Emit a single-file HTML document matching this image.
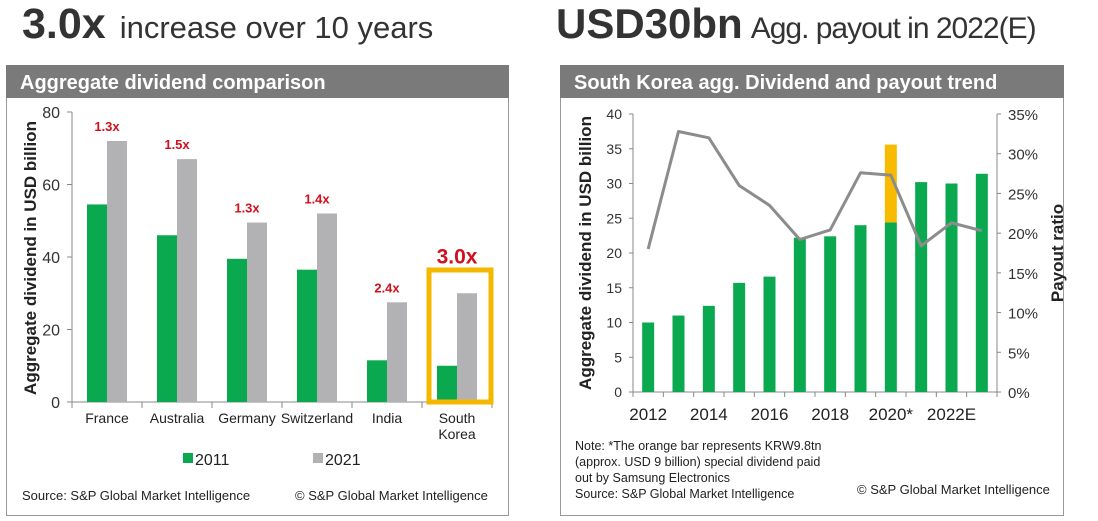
<!DOCTYPE html>
<html><head><meta charset="utf-8"><style>
body{margin:0;width:1098px;height:521px;background:#fff;font-family:"Liberation Sans",Arial,sans-serif;overflow:hidden;position:relative}
.abs{position:absolute;white-space:nowrap}
</style></head><body>
<div class="abs" style="left:22px;top:0px;color:#333;"><span style="font-size:43px;font-weight:bold">3.0x</span><span style="font-size:31px;margin-left:14px">increase over 10 years</span></div>
<div class="abs" style="left:556px;top:0px;color:#333;"><span style="font-size:42px;font-weight:bold">USD30bn</span><span style="font-size:30px;letter-spacing:-1px;margin-left:8px">Agg. payout in 2022(E)</span></div>
<svg width="1098" height="521" style="position:absolute;left:0;top:0" id="svg" font-family="Liberation Sans, Arial, sans-serif">
<rect x="6.5" y="65.5" width="502" height="450" fill="none" stroke="#999"/>
<rect x="6" y="65" width="503" height="33" fill="#7a7a7a"/>
<text x="20" y="89" fill="#fff" font-size="20" font-weight="bold">Aggregate dividend comparison</text>
<rect x="560.5" y="65.5" width="503" height="450" fill="none" stroke="#999"/>
<rect x="560" y="65" width="504" height="33" fill="#7a7a7a"/>
<text x="574" y="89" fill="#fff" font-size="20" font-weight="bold">South Korea agg. Dividend and payout trend</text>
<g id="left"></g><g id="right"></g>
<text x="22" y="500" font-size="13" fill="#222">Source: S&amp;P Global Market Intelligence</text>
<text x="295" y="500" font-size="13" fill="#222">© S&amp;P Global Market Intelligence</text>
<text font-size="12.5" fill="#222"><tspan x="575" y="450">Note: *The orange bar represents KRW9.8tn</tspan><tspan x="575" y="466">(approx. USD 9 billion) special dividend paid</tspan><tspan x="575" y="482">out by Samsung Electronics</tspan><tspan x="575" y="498">Source: S&amp;P Global Market Intelligence</tspan></text>
<text x="857" y="494" font-size="13" fill="#222">© S&amp;P Global Market Intelligence</text>
</svg>
<script>
const countries=["France","Australia","Germany","Switzerland","India","South Korea"];
const v2011=[54.5,46,39.5,36.5,11.5,10];
const v2021=[72,67,49.5,52,27.5,30];
const multLabels=["1.3x","1.5x","1.3x","1.4x","2.4x","3.0x"];
const yTicksL=[0,20,40,60,80];
const years=["2012","2013","2014","2015","2016","2017","2018","2019","2020*","2021","2022E","2023E"];
const divs=[10,11,12.4,15.7,16.6,22.2,22.4,24,24.4,30.2,30,31.4];
const special=[0,0,0,0,0,0,0,0,11.2,0,0,0];
const payout=[18,32.8,32,26,23.5,19.2,20.4,27.6,27.3,18.4,21.3,20.3];
const yTicksR=[0,5,10,15,20,25,30,35,40];
const pTicks=[0,5,10,15,20,25,30,35];
const NS="http://www.w3.org/2000/svg";
function mk(p,t,a,txt){const e=document.createElementNS(NS,t);for(const k in a)e.setAttribute(k,a[k]);if(txt!=null)e.textContent=txt;p.appendChild(e);return e;}
// LEFT
const L=document.getElementById('left');
const lx0=72,lband=70,ly=v=>402-v*290/80;
mk(L,'line',{x1:lx0,y1:112,x2:lx0,y2:402,stroke:'#888'});
mk(L,'line',{x1:lx0,y1:402,x2:lx0+6*lband,y2:402,stroke:'#888'});
yTicksL.forEach(t=>{let e=mk(L,'text',{x:60,y:ly(t)+6,'text-anchor':'end','font-size':16,fill:'#333'},t);

mk(L,'line',{x1:lx0-5,y1:ly(t),x2:lx0,y2:ly(t),stroke:'#888'});});
for(let i=0;i<=6;i++)mk(L,'line',{x1:lx0+i*lband,y1:402,x2:lx0+i*lband,y2:408,stroke:'#888'});
let yt=mk(L,'text',{x:0,y:0,transform:'translate(36,258) rotate(-90)','text-anchor':'middle','font-size':17,'font-weight':'bold',fill:'#222'},'Aggregate dividend in USD billion');

countries.forEach((c,i)=>{const x=lx0+i*lband;
let b=mk(L,'rect',{x:x+15,y:ly(v2011[i]),width:20,height:402-ly(v2011[i]),fill:'#0aa84f'});

b=mk(L,'rect',{x:x+35,y:ly(v2021[i]),width:20,height:402-ly(v2021[i]),fill:'#b2b2b4'});

const top=Math.max(v2011[i],v2021[i]);
const big=i===5;
let m=mk(L,'text',{x:x+35,y:big?ly(top)-30:ly(top)-10,'text-anchor':'middle','font-size':big?21:13,'font-weight':'bold',fill:'#d0101e'},multLabels[i]);

const parts=c==="South Korea"?["South","Korea"]:[c];
parts.forEach((p,j)=>{let t=mk(L,'text',{x:x+35,y:423+j*16,'text-anchor':'middle','font-size':14,fill:'#222'},p);
});
});
let box=mk(L,'rect',{x:429,y:270,width:62,height:132,fill:'none',stroke:'#f5b800','stroke-width':5});

let lg=mk(L,'rect',{x:183,y:453,width:10,height:10,fill:'#0aa84f'});
lg=mk(L,'text',{x:195,y:465,'font-size':16,fill:'#222'},'2011');
lg=mk(L,'rect',{x:313,y:453,width:10,height:10,fill:'#b2b2b4'});
lg=mk(L,'text',{x:325,y:465,'font-size':16,fill:'#222'},'2021');
// RIGHT
const R=document.getElementById('right');
const rx0=633,rx1=997,rband=(rx1-rx0)/12,ry=v=>392-v*278/40,py=p=>392-p*278/35;
mk(R,'line',{x1:rx0,y1:114,x2:rx0,y2:392,stroke:'#888'});
mk(R,'line',{x1:rx1,y1:114,x2:rx1,y2:392,stroke:'#888'});
mk(R,'line',{x1:rx0,y1:392,x2:rx1,y2:392,stroke:'#888'});
yTicksR.forEach(t=>{let e=mk(R,'text',{x:622,y:ry(t)+5,'text-anchor':'end','font-size':14,fill:'#333'},t);

mk(R,'line',{x1:rx0-4,y1:ry(t),x2:rx0,y2:ry(t),stroke:'#888'});});
pTicks.forEach(t=>{let e=mk(R,'text',{x:1008,y:py(t)+6,'font-size':15,fill:'#333'},t+'%');

mk(R,'line',{x1:rx1,y1:py(t),x2:rx1+4,y2:py(t),stroke:'#888'});});
for(let i=0;i<=12;i++)mk(R,'line',{x1:rx0+i*rband,y1:392,x2:rx0+i*rband,y2:397,stroke:'#888'});
yt=mk(R,'text',{x:0,y:0,transform:'translate(591,253) rotate(-90)','text-anchor':'middle','font-size':17,'font-weight':'bold',fill:'#222'},'Aggregate dividend in USD billion');

yt=mk(R,'text',{x:0,y:0,transform:'translate(1063,253) rotate(-90)','text-anchor':'middle','font-size':17,'font-weight':'bold',fill:'#222'},'Payout ratio');

let pts=[];
years.forEach((y,i)=>{const cx=rx0+(i+0.5)*rband;
let b=mk(R,'rect',{x:cx-6,y:ry(divs[i]),width:12,height:392-ry(divs[i]),fill:'#0aa84f'});

if(special[i]>0){b=mk(R,'rect',{x:cx-6,y:ry(divs[i]+special[i]),width:12,height:ry(divs[i])-ry(divs[i]+special[i]),fill:'#f8bb00'});
}
if(i%2===0){let t=mk(R,'text',{x:cx,y:420,'text-anchor':'middle','font-size':17,fill:'#222'},y);
}
pts.push(cx+','+py(payout[i]));});
let ln=mk(R,'polyline',{points:pts.join(' '),fill:'none',stroke:'#8c8c8c','stroke-width':3,'stroke-linejoin':'round'});

</script>
</body></html>
